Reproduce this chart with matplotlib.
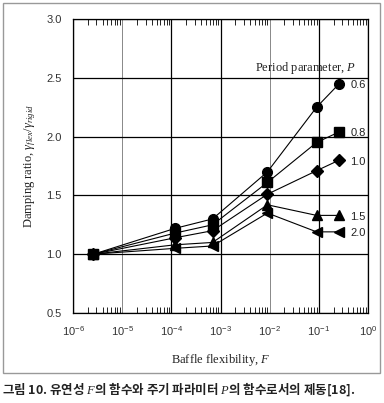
import matplotlib
matplotlib.use("Agg")
import matplotlib.pyplot as plt
from matplotlib.patches import Rectangle
from matplotlib.ticker import LogLocator, NullFormatter

plt.rcParams['mathtext.fontset'] = 'custom'
plt.rcParams['mathtext.rm'] = 'Liberation Serif'
plt.rcParams['mathtext.it'] = 'Liberation Serif:italic'

# flexibility values (x) and damping ratio per period parameter
flex = [2.6e-6, 1.2e-4, 6.9e-4, 9.0e-3, 9.0e-2, 2.6e-1]
periods = ['0.6', '0.8', '1.0', '1.5', '2.0']
ratio_06 = [1.0, 1.22, 1.30, 1.70, 2.25, 2.45]
ratio_08 = [1.0, 1.18, 1.25, 1.61, 1.95, 2.04]
ratio_10 = [1.0, 1.14, 1.20, 1.51, 1.71, 1.80]
ratio_15 = [1.0, 1.08, 1.10, 1.42, 1.33, 1.33]
ratio_20 = [1.0, 1.05, 1.07, 1.35, 1.19, 1.19]
series = [ratio_06, ratio_08, ratio_10, ratio_15, ratio_20]
markers = ['o', 's', 'D', '^', '<']
msizes = [7, 7, 6, 7, 7]

fig = plt.figure(figsize=(3.84, 4.03), dpi=100)
ax = fig.add_axes([73 / 384, 1 - 313 / 403, 295 / 384, 294 / 403])

for vals, m, ms, p in zip(series, markers, msizes, periods):
    ax.plot(flex, vals, color='black', lw=0.8, marker=m, ms=ms,
            markerfacecolor='black', markeredgecolor='black', zorder=3)
    ax.annotate(p, (flex[-1], vals[-1]), xytext=(8, -1), textcoords='offset points',
                fontsize=8, family='Liberation Sans', va='center', color='#222222')

ax.set_xscale('log')
ax.set_xlim(1e-6, 1)
ax.set_ylim(0.5, 3.0)
ax.set_xticks([1e-6, 1e-5, 1e-4, 1e-3, 1e-2, 1e-1, 1])
ax.set_yticks([0.5, 1.0, 1.5, 2.0, 2.5, 3.0])
ax.set_yticklabels(['0.5', '1.0', '1.5', '2.0', '2.5', '3.0'])
ax.xaxis.set_minor_locator(LogLocator(base=10, subs=range(2, 10), numticks=20))
ax.xaxis.set_minor_formatter(NullFormatter())
ax.tick_params(axis='x', which='minor', direction='in', length=4, width=0.6,
               top=True, bottom=True)
ax.tick_params(axis='x', which='major', direction='in', length=0, pad=8)
ax.tick_params(axis='y', which='major', length=0, pad=8)
for lab in ax.get_xticklabels() + ax.get_yticklabels():
    lab.set_fontsize(8)
    lab.set_family('Liberation Sans')
    lab.set_color('#333333')

ax.grid(True, which='major', color='black', lw=0.9)
vcolors = ['black', '#888888', 'black', 'black', '#888888', 'black', 'black']
for gl, c in zip(ax.xaxis.get_gridlines(), vcolors):
    gl.set_color(c)
    if c != 'black':
        gl.set_linewidth(0.7)
for s in ax.spines.values():
    s.set_linewidth(0.9)

ax.set_xlabel('Baffle flexibility, $F$', family='Liberation Serif', fontsize=9,
              labelpad=10, color='#222222')
ax.set_ylabel(r'Damping ratio, $\gamma_{flex}/\gamma_{rigid}$', family='Liberation Serif',
              fontsize=9, labelpad=6, color='#222222')
ax.text(0.959, 0.805, 'Period parameter, $P$', transform=ax.transAxes, ha='right',
        va='bottom', family='Liberation Serif', fontsize=9, color='#222222')

fig.patches.append(Rectangle((3 / 384, 1 - 373 / 403), 377 / 384, 370 / 403,
                             transform=fig.transFigure, fill=False,
                             edgecolor='#999999', lw=1))
fig.text(2 / 384, 1 - 389 / 403, '그림 10. 유연성 $F$의 함수와 주기 파라미터 $P$의 함수로서의 제동[18].',
         family=['Noto Sans CJK KR', 'DejaVu Sans'], fontsize=9, fontweight='bold',
         va='center', ha='left', color='#222222')

fig.savefig('out.png', dpi=100)
